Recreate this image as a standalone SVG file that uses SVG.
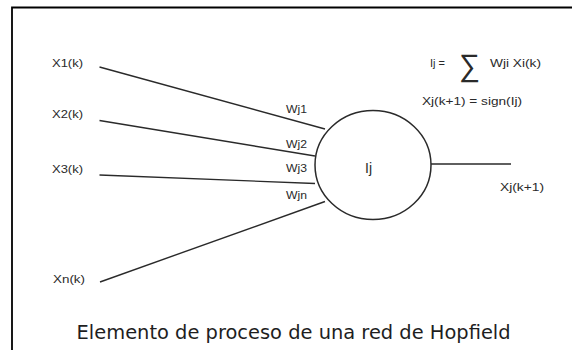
<svg xmlns="http://www.w3.org/2000/svg" width="572" height="350" viewBox="0 0 572 350">
<style>
.lbl{font-family:"Liberation Sans",Arial,sans-serif;font-size:10.5px;fill:#2a2a2a;}
.conn{stroke:#2a2a2a;stroke-width:1.4;fill:none;}
.title{font-family:"DejaVu Sans",Verdana,sans-serif;font-size:19.4px;fill:#1e1e1e;}
</style>
<rect x="0" y="0" width="572" height="350" fill="#ffffff"/>
<path d="M12 350 V7.5 H572" fill="none" stroke="#000" stroke-width="1.8"/>

<g id="connectors">
  <line class="conn" x1="99.5" y1="67" x2="325" y2="129"/>
  <line class="conn" x1="99.5" y1="120.5" x2="315" y2="156"/>
  <line class="conn" x1="99.5" y1="175" x2="315" y2="183.5"/>
  <line class="conn" x1="100" y1="282" x2="325" y2="201.5"/>
  <line class="conn" x1="431" y1="164" x2="511" y2="164"/>
</g>

<g id="x1">
  <text class="lbl" x="52" y="67" textLength="31" lengthAdjust="spacingAndGlyphs">X1(k)</text>
</g>
<g id="x2">
  <text class="lbl" x="52" y="117.5" textLength="31" lengthAdjust="spacingAndGlyphs">X2(k)</text>
</g>
<g id="x3">
  <text class="lbl" x="52" y="172.5" textLength="31" lengthAdjust="spacingAndGlyphs">X3(k)</text>
</g>
<g id="xn">
  <text class="lbl" x="53" y="283" textLength="32" lengthAdjust="spacingAndGlyphs">Xn(k)</text>
</g>

<g id="weights">
  <text class="lbl" x="286" y="112.5" textLength="21" lengthAdjust="spacingAndGlyphs">Wj1</text>
  <text class="lbl" x="286" y="147.5" textLength="21" lengthAdjust="spacingAndGlyphs">Wj2</text>
  <text class="lbl" x="286" y="172" textLength="21" lengthAdjust="spacingAndGlyphs">Wj3</text>
  <text class="lbl" x="286" y="199" textLength="21" lengthAdjust="spacingAndGlyphs">Wjn</text>
</g>

<g id="neuron">
  <ellipse cx="373" cy="165" rx="58" ry="54.5" fill="none" stroke="#2a2a2a" stroke-width="1.5"/>
  <text class="lbl" x="365" y="173" style="font-size:14px">Ij</text>
</g>

<g id="output">
  <text class="lbl" x="500" y="190.5" textLength="44" lengthAdjust="spacingAndGlyphs">Xj(k+1)</text>
</g>

<g id="formula">
  <text class="lbl" x="430" y="66.5" textLength="15" lengthAdjust="spacingAndGlyphs">Ij =</text>
  <text class="lbl" x="459" y="76" style="font-size:31px" textLength="21" lengthAdjust="spacingAndGlyphs">∑</text>
  <text class="lbl" x="490" y="66.5" textLength="51" lengthAdjust="spacingAndGlyphs">Wji Xi(k)</text>
  <text class="lbl" x="422" y="105" textLength="100" lengthAdjust="spacingAndGlyphs">Xj(k+1) = sign(Ij)</text>
</g>

<g id="caption">
  <text class="title" x="76.6" y="338.5" textLength="434" lengthAdjust="spacingAndGlyphs">Elemento de proceso de una red de Hopfield</text>
</g>
</svg>
